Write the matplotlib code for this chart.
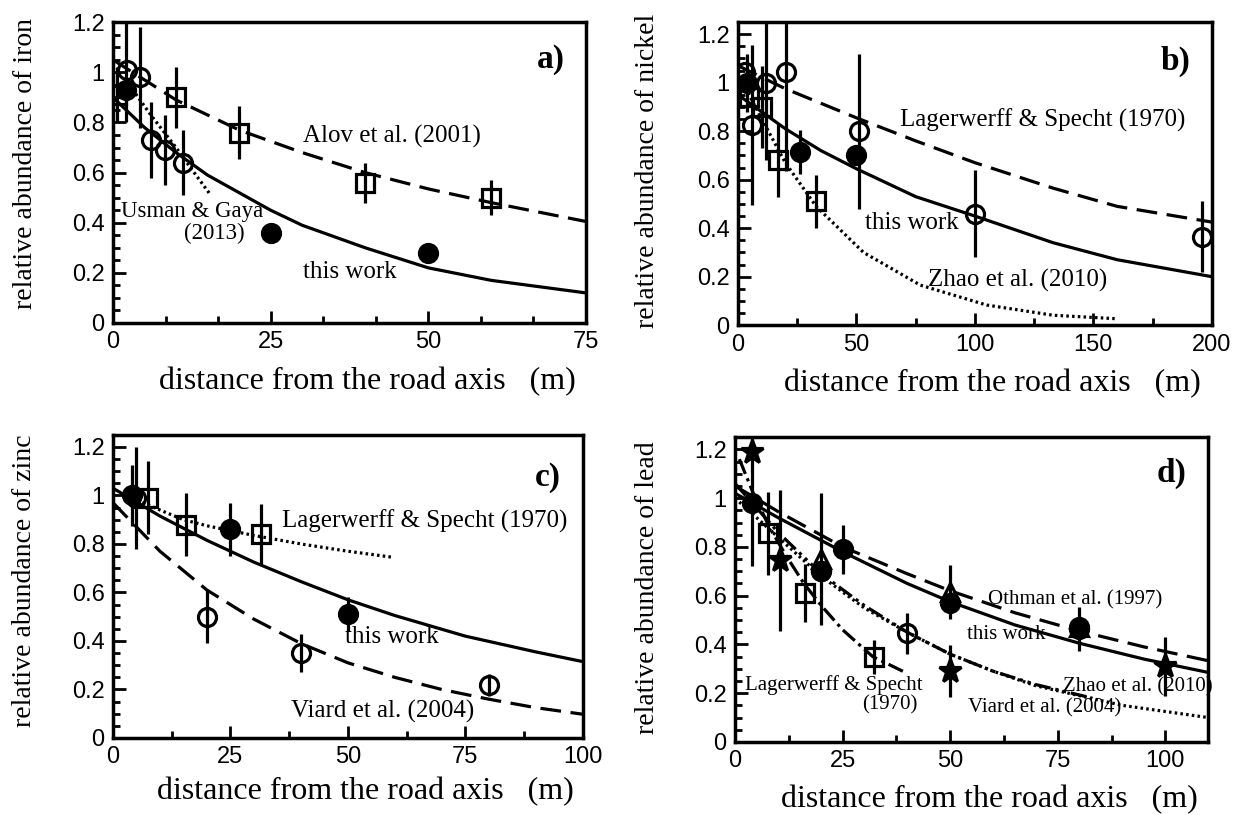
import numpy as np
import matplotlib.pyplot as plt
from matplotlib.ticker import MultipleLocator, AutoMinorLocator

plt.rcParams['font.family'] = 'Liberation Serif'

# ---------------- a) iron ----------------
fe_work_x = [2, 25, 50]
fe_work_y = [0.93, 0.36, 0.28]
fe_work_err = [[0.13, 0.0, 0.0], [0.30, 0.0, 0.0]]
fe_usman_x = [2.2, 4.3, 6.1, 8.2, 11.1]
fe_usman_y = [1.01, 0.98, 0.73, 0.69, 0.64]
fe_usman_err = [0.0, 0.20, 0.15, 0.14, 0.13]
fe_alov_x = [0.6, 10, 20, 40, 60]
fe_alov_y = [0.91, 0.90, 0.76, 0.56, 0.50]
fe_alov_err = [0.11, 0.12, 0.105, 0.08, 0.07]

fe_curve_work_x = [0, 5, 10, 15, 20, 25, 30, 40, 50, 60, 75]
fe_curve_work_y = [0.90, 0.78, 0.68, 0.59, 0.52, 0.45, 0.39, 0.30, 0.22, 0.17, 0.12]
fe_curve_alov_x = [0, 10, 20, 30, 40, 50, 60, 75]
fe_curve_alov_y = [1.05, 0.89, 0.77, 0.68, 0.60, 0.535, 0.48, 0.405]
fe_curve_usman_x = [2, 4, 6, 8, 10, 12, 15.5]
fe_curve_usman_y = [0.97, 0.90, 0.83, 0.765, 0.70, 0.63, 0.51]

# ---------------- b) nickel ----------------
ni_work_x = [4, 26, 50]
ni_work_y = [1.0, 0.715, 0.70]
ni_work_err = [0.12, 0.09, 0.0]
ni_circ_x = [3, 5.8, 12, 20.5, 51, 100, 196]
ni_circ_y = [1.045, 0.825, 1.0, 1.045, 0.80, 0.46, 0.365]
ni_circ_err = [0.0, 0.33, 0.32, 0.41, 0.32, 0.18, 0.145]
ni_sq_x = [4.5, 10, 17, 33]
ni_sq_y = [0.94, 0.90, 0.68, 0.51]
ni_sq_err = [0.0, 0.17, 0.15, 0.11]

ni_curve_work_x = [0, 10, 20, 35, 50, 75, 100, 133, 160, 200]
ni_curve_work_y = [0.95, 0.88, 0.81, 0.72, 0.645, 0.53, 0.45, 0.34, 0.27, 0.20]
ni_curve_lag_x = [0, 20, 50, 75, 100, 133, 160, 200]
ni_curve_lag_y = [1.07, 0.975, 0.855, 0.76, 0.67, 0.565, 0.49, 0.425]
ni_curve_zhao_x = [2, 9, 20, 33, 53, 77, 105, 133, 159]
ni_curve_zhao_y = [1.0, 0.87, 0.67, 0.49, 0.30, 0.165, 0.083, 0.041, 0.027]

# ---------------- c) zinc ----------------
zn_work_x = [4, 25, 50]
zn_work_y = [1.0, 0.86, 0.51]
zn_work_err = [0.125, 0.11, 0.07]
zn_viard_x = [5, 20, 40, 80]
zn_viard_y = [0.99, 0.50, 0.35, 0.22]
zn_viard_err = [0.21, 0.11, 0.08, 0.045]
zn_lag_x = [7.5, 15.5, 31.5]
zn_lag_y = [0.99, 0.88, 0.84]
zn_lag_err = [0.15, 0.13, 0.125]

zn_curve_work_x = [0, 10, 20, 30, 40, 50, 60, 75, 90, 100]
zn_curve_work_y = [1.03, 0.915, 0.815, 0.725, 0.645, 0.57, 0.505, 0.42, 0.355, 0.315]
zn_curve_viard_x = [0, 10, 20, 30, 40, 50, 60, 70, 80, 90, 100]
zn_curve_viard_y = [0.97, 0.77, 0.61, 0.49, 0.39, 0.31, 0.25, 0.20, 0.16, 0.125, 0.098]
zn_curve_lag_x = [4, 10, 15, 20, 25, 30, 40, 50, 59.6]
zn_curve_lag_y = [0.99, 0.94, 0.90, 0.875, 0.855, 0.835, 0.80, 0.77, 0.745]

# ---------------- d) lead ----------------
pb_work_x = [4, 20, 25, 50, 80]
pb_work_y = [0.98, 0.70, 0.79, 0.57, 0.465]
pb_work_err = [[0.26, 0.0, 0.1, 0.0, 0.09], [0.4, 0.0, 0.1, 0.0, 0.09]]
pb_othman_x = [20, 50, 80]
pb_othman_y = [0.75, 0.615, 0.47]
pb_othman_err = [0.27, 0.11, 0.0]
pb_star_x = [4, 10.5, 50, 100]
pb_star_y = [1.19, 0.745, 0.29, 0.31]
pb_star_err = [0.0, 0.29, 0.106, 0.12]
pb_lag_x = [7.75, 16.3, 32.2]
pb_lag_y = [0.855, 0.61, 0.35]
pb_lag_err = [0.17, 0.12, 0.07]
pb_circ_x = [20, 40, 80]
pb_circ_y = [0.70, 0.445, 0.47]
pb_circ_err = [0.0, 0.085, 0.0]

pb_curve_work_x = [0, 10, 25, 40, 50, 65, 80, 95, 110]
pb_curve_work_y = [1.02, 0.92, 0.78, 0.65, 0.575, 0.48, 0.405, 0.34, 0.285]
pb_curve_othman_x = [0, 10, 25, 40, 50, 65, 80, 95, 110]
pb_curve_othman_y = [1.05, 0.945, 0.80, 0.69, 0.62, 0.53, 0.455, 0.39, 0.333]
pb_curve_lag_x = [1, 4, 8, 12, 16, 20, 25, 32, 39]
pb_curve_lag_y = [1.16, 1.03, 0.88, 0.76, 0.65, 0.56, 0.46, 0.35, 0.29]
pb_curve_viard_x = [0, 10, 20, 30, 40, 50, 60, 70, 83]
pb_curve_viard_y = [1.06, 0.86, 0.69, 0.56, 0.45, 0.36, 0.29, 0.235, 0.18]
pb_curve_zhao_x = [0, 10, 20, 30, 40, 50, 60, 70, 80, 90, 100, 110]
pb_curve_zhao_y = [1.0, 0.84, 0.68, 0.55, 0.45, 0.36, 0.29, 0.23, 0.19, 0.15, 0.125, 0.10]

LW = 2.3
DASH = (0, (6.5, 3))
DOT = (0, (0.8, 1.0))
DADOTDOT = (0, (5, 1.5, 1, 1.5, 1, 1.5))
DADOT = (0, (5, 1.5, 1, 1.5))


def points(ax, x, y, err, marker, filled=False, ms=13):
    ax.errorbar(x, y, yerr=err, fmt=marker, ms=ms, mew=LW,
                mfc='k' if filled else 'none', mec='k', ecolor='k',
                elinewidth=LW, capsize=0, zorder=3)


def setup(ax, xmax, xmajor, xminor, ymax, ylabel, ylab_xy, xlab_y):
    ax.set_xlim(0, xmax)
    ax.set_ylim(0, ymax)
    ax.xaxis.set_major_locator(MultipleLocator(xmajor))
    ax.xaxis.set_minor_locator(AutoMinorLocator(xminor))
    ax.yaxis.set_major_locator(MultipleLocator(0.2))
    ax.yaxis.set_minor_locator(AutoMinorLocator(4))
    ax.tick_params(which='both', direction='in', width=2, top=False, right=False)
    ax.tick_params(which='major', length=9)
    ax.tick_params(which='minor', length=5)
    ax.tick_params(axis='x', pad=6)
    ax.tick_params(axis='y', pad=6)
    for s in ax.spines.values():
        s.set_linewidth(2.5)
    ax.yaxis.set_major_formatter(plt.FuncFormatter(lambda v, p: '%g' % round(v, 2)))
    for lab in ax.get_xticklabels() + ax.get_yticklabels():
        lab.set_family('Liberation Sans')
        lab.set_fontsize(17)
    ax.set_xlabel('distance from the road axis   (m)', fontsize=23, va='center')
    ax.xaxis.set_label_coords(0.537, xlab_y)
    ax.set_ylabel(ylabel, fontsize=20)
    ax.yaxis.set_label_coords(*ylab_xy)


fig = plt.figure(figsize=(12.36, 8.15), dpi=100)
axa = fig.add_axes([0.0914, 0.6037, 0.3827, 0.369])
axb = fig.add_axes([0.597, 0.601, 0.3835, 0.372])
axc = fig.add_axes([0.0914, 0.0945, 0.380, 0.372])
axd = fig.add_axes([0.5947, 0.0896, 0.383, 0.374])

# a) iron
ax = axa
ax.plot(fe_curve_work_x, fe_curve_work_y, 'k-', lw=LW)
ax.plot(fe_curve_alov_x, fe_curve_alov_y, 'k', ls=DASH, lw=LW)
ax.plot(fe_curve_usman_x, fe_curve_usman_y, 'k', ls=DOT, lw=LW)
points(ax, fe_alov_x, fe_alov_y, fe_alov_err, 's')
points(ax, fe_usman_x, fe_usman_y, fe_usman_err, 'o')
points(ax, fe_work_x, fe_work_y, fe_work_err, 'o', filled=True)
ax.text(69.4, 1.05, 'a)', fontsize=24, fontweight='bold', va='center', ha='center')
ax.text(30.1, 0.743, 'Alov et al. (2001)', fontsize=18, va='center')
ax.text(23.8, 0.444, 'Usman & Gaya', fontsize=16.5, va='center', ha='right')
ax.text(20.9, 0.358, '(2013)', fontsize=16.5, va='center', ha='right')
ax.text(30.1, 0.205, 'this work', fontsize=18, va='center')
setup(ax, 75, 25, 3, 1.2, 'relative abundance of iron', (-0.159, 0.53), -0.196)

# b) nickel
ax = axb
ax.plot(ni_curve_work_x, ni_curve_work_y, 'k-', lw=LW)
ax.plot(ni_curve_lag_x, ni_curve_lag_y, 'k', ls=DASH, lw=LW)
ax.plot(ni_curve_zhao_x, ni_curve_zhao_y, 'k', ls=DOT, lw=LW)
points(ax, ni_sq_x, ni_sq_y, ni_sq_err, 's')
points(ax, ni_circ_x, ni_circ_y, ni_circ_err, 'o')
points(ax, ni_work_x, ni_work_y, ni_work_err, 'o', filled=True)
ax.text(184.5, 1.086, 'b)', fontsize=24, fontweight='bold', va='center', ha='center')
ax.text(68.4, 0.846, 'Lagerwerff & Specht (1970)', fontsize=18, va='center')
ax.text(53.6, 0.42, 'this work', fontsize=18, va='center')
ax.text(80.2, 0.186, 'Zhao et al. (2010)', fontsize=18, va='center')
setup(ax, 200, 50, 2, 1.25, 'relative abundance of nickel', (-0.165, 0.51), -0.191)

# c) zinc
ax = axc
ax.plot(zn_curve_work_x, zn_curve_work_y, 'k-', lw=LW)
ax.plot(zn_curve_viard_x, zn_curve_viard_y, 'k', ls=DASH, lw=LW)
ax.plot(zn_curve_lag_x, zn_curve_lag_y, 'k', ls=DOT, lw=LW)
points(ax, zn_lag_x, zn_lag_y, zn_lag_err, 's')
points(ax, zn_viard_x, zn_viard_y, zn_viard_err, 'o')
points(ax, zn_work_x, zn_work_y, zn_work_err, 'o', filled=True)
ax.text(92.5, 1.072, 'c)', fontsize=24, fontweight='bold', va='center', ha='center')
ax.text(35.9, 0.892, 'Lagerwerff & Specht (1970)', fontsize=18, va='center')
ax.text(49.4, 0.418, 'this work', fontsize=18, va='center')
ax.text(37.8, 0.109, 'Viard et al. (2004)', fontsize=18, va='center')
setup(ax, 100, 25, 2, 1.25, 'relative abundance of zinc', (-0.162, 0.52), -0.178)

# d) lead
ax = axd
ax.plot(pb_curve_work_x, pb_curve_work_y, 'k-', lw=LW)
ax.plot(pb_curve_othman_x, pb_curve_othman_y, 'k', ls=DASH, lw=LW)
ax.plot(pb_curve_lag_x, pb_curve_lag_y, 'k', ls=DADOT, lw=LW)
ax.plot(pb_curve_viard_x, pb_curve_viard_y, 'k', ls=DADOTDOT, lw=LW)
ax.plot(pb_curve_zhao_x, pb_curve_zhao_y, 'k', ls=DOT, lw=LW)
points(ax, pb_lag_x, pb_lag_y, pb_lag_err, 's')
points(ax, pb_circ_x, pb_circ_y, pb_circ_err, 'o')
points(ax, pb_othman_x, pb_othman_y, pb_othman_err, '^')
points(ax, pb_star_x, pb_star_y, pb_star_err, '*', filled=True, ms=17)
points(ax, pb_work_x, pb_work_y, pb_work_err, 'o', filled=True)
ax.text(101.5, 1.1, 'd)', fontsize=24, fontweight='bold', va='center', ha='center')
ax.text(58.8, 0.582, 'Othman et al. (1997)', fontsize=15, va='center')
ax.text(53.9, 0.439, 'this work', fontsize=15, va='center')
ax.text(76.3, 0.227, 'Zhao et al. (2010)', fontsize=15, va='center')
ax.text(54.2, 0.138, 'Viard et al. (2004)', fontsize=15, va='center')
ax.text(2.3, 0.234, 'Lagerwerff & Specht', fontsize=15, va='center')
ax.text(42.3, 0.152, '(1970)', fontsize=15, va='center', ha='right')
setup(ax, 110, 25, 2, 1.25, 'relative abundance of lead', (-0.159, 0.505), -0.19)

plt.savefig('out.png', dpi=100)
